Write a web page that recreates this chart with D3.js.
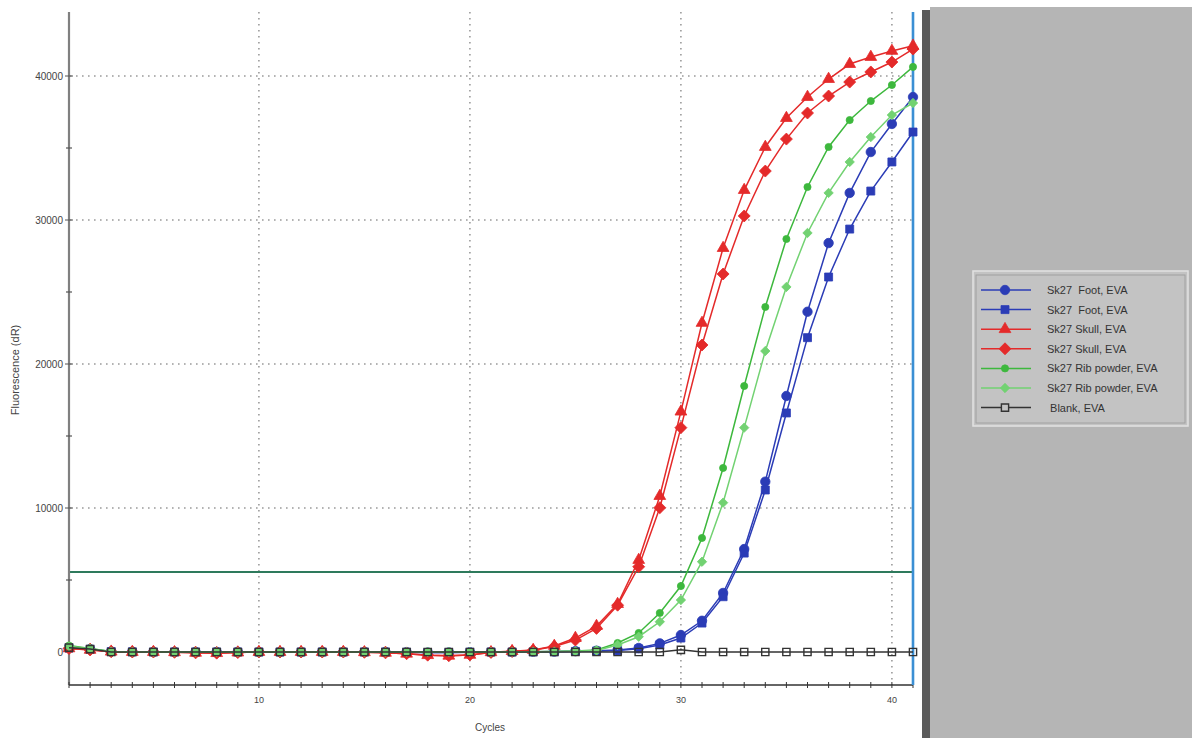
<!DOCTYPE html>
<html><head><meta charset="utf-8">
<script src="https://cdn.jsdelivr.net/npm/d3@7"></script>
<style>body{margin:0;background:#fff;} svg{display:block;font-family:"Liberation Sans",Arial,sans-serif;}</style>
</head><body>
<svg id="chart" width="1192" height="738"></svg>
<script>
const cycles = d3.range(1, 42);
const footA  = [300,200,40,20,10,10,0,0,10,0,0,0,10,0,0,0,-20,-40,-30,-20,0,0,20,30,60,90,140,280,600,1180,2170,4100,7150,11830,17780,23630,28400,31880,34720,36670,38540];
const footB  = [280,180,30,10,0,0,0,0,0,0,0,0,0,0,0,0,-20,-40,-40,-20,0,0,10,20,40,70,100,220,490,970,2010,3840,6870,11250,16600,21830,26040,29370,32010,34030,36110];
const skullA = [250,150,20,0,0,-20,-60,-80,-40,0,0,0,0,0,-20,-60,-120,-220,-260,-200,-20,60,140,420,970,1800,3330,6390,10830,16690,22850,28050,32080,35070,37080,38540,39790,40830,41320,41740,42100];
const skullB = [240,140,20,0,0,-20,-60,-80,-40,0,0,0,0,0,-20,-60,-120,-220,-260,-200,-30,40,120,380,830,1640,3250,5920,10020,15580,21320,26250,30280,33400,35620,37430,38610,39580,40280,40970,41870];
const ribA   = [450,250,30,10,0,0,0,0,0,0,0,0,0,0,0,0,0,0,0,0,0,10,20,40,70,140,625,1320,2710,4580,7920,12780,18470,23960,28680,32290,35070,36940,38260,39375,40630];
const ribB   = [400,230,30,10,0,0,0,0,0,0,0,0,0,0,0,0,0,0,0,0,0,10,20,30,50,100,490,1060,2100,3610,6270,10370,15580,20900,25350,29100,31880,34030,35760,37290,38125];
const blank  = [300,200,0,0,0,0,0,0,0,0,0,0,0,0,0,0,0,0,0,0,0,0,0,0,0,0,0,0,0,150,0,0,0,0,0,0,0,0,0,0,0];
const threshold = 5555;
const yMajorTicks = [0,10000,20000,30000,40000];
const yMinorTicks = [5000,15000,25000,35000];
const xLabelTicks = [10,20,30,40];
const legendLabels = ["Sk27  Foot, EVA","Sk27  Foot, EVA","Sk27 Skull, EVA","Sk27 Skull, EVA","Sk27 Rib powder, EVA","Sk27 Rib powder, EVA"," Blank, EVA"];

// square diamond (rotated square)
const symbolRhomb = { draw(ctx, size){ const r = Math.sqrt(size/2); ctx.moveTo(0,-r); ctx.lineTo(r,0); ctx.lineTo(0,r); ctx.lineTo(-r,0); ctx.closePath(); } };

const series = [
  {name:legendLabels[6], values:blank,  color:"#333333", sym:d3.symbolSquare,   size:52, hollow:true},
  {name:legendLabels[0], values:footA,  color:"#2b3cb6", sym:d3.symbolCircle,   size:70},
  {name:legendLabels[1], values:footB,  color:"#2b3cb6", sym:d3.symbolSquare,   size:64},
  {name:legendLabels[2], values:skullA, color:"#e42a2a", sym:d3.symbolTriangle, size:60},
  {name:legendLabels[3], values:skullB, color:"#e42a2a", sym:symbolRhomb,       size:72},
  {name:legendLabels[4], values:ribA,   color:"#3db83d", sym:d3.symbolCircle,   size:40},
  {name:legendLabels[5], values:ribB,   color:"#72d272", sym:symbolRhomb,       size:44}
];

const svg = d3.select("#chart");
const x = d3.scaleLinear().domain([1,41]).range([69,913]);
const y = d3.scaleLinear().domain([0,40000]).range([652,76]);
const yTop = 12, yBot = 685;

// right panel
svg.append("rect").attr("x",930).attr("y",7).attr("width",262).attr("height",731).attr("fill","#b5b5b5");
svg.append("rect").attr("x",922).attr("y",10).attr("width",8).attr("height",728).attr("fill","#5b5b5b");

// gridlines
const grid = svg.append("g").attr("stroke","#9a9a9a").attr("stroke-width",1.6).attr("stroke-dasharray","1.6,4.4");
grid.selectAll("line.h").data(yMajorTicks.filter(d=>d>0)).join("line")
  .attr("x1",70).attr("x2",913).attr("y1",d=>y(d)).attr("y2",d=>y(d));
grid.selectAll("line.v").data(xLabelTicks).join("line")
  .attr("x1",d=>x(d)).attr("x2",d=>x(d)).attr("y1",yTop).attr("y2",yBot);

// threshold
svg.append("line").attr("x1",69).attr("x2",913).attr("y1",y(threshold)).attr("y2",y(threshold))
  .attr("stroke","#2e7a5c").attr("stroke-width",2);

// y axis
svg.append("line").attr("x1",69).attr("x2",69).attr("y1",yTop).attr("y2",yBot).attr("stroke","#808080").attr("stroke-width",2.2);
const yAx = svg.append("g");
yAx.selectAll("line.maj").data(yMajorTicks).join("line")
  .attr("x1",65).attr("x2",73).attr("y1",d=>y(d)).attr("y2",d=>y(d)).attr("stroke","#555").attr("stroke-width",1);
yAx.selectAll("line.min").data(yMinorTicks).join("line")
  .attr("x1",66).attr("x2",72).attr("y1",d=>y(d)).attr("y2",d=>y(d)).attr("stroke","#555").attr("stroke-width",1.2);
yAx.selectAll("text").data(yMajorTicks).join("text")
  .attr("x",63).attr("y",d=>y(d)+4).attr("text-anchor","end").attr("font-size",10).attr("fill","#444")
  .text(d=>d);
svg.append("text").attr("transform","translate(19,370) rotate(-90)").attr("text-anchor","middle")
  .attr("font-size",11).attr("fill","#444").text("Fluorescence (dR)");

// x axis
svg.append("line").attr("x1",69).attr("x2",913).attr("y1",yBot).attr("y2",yBot).attr("stroke","#333").attr("stroke-width",1.6);
svg.append("g").selectAll("line").data(cycles).join("line")
  .attr("x1",d=>x(d)).attr("x2",d=>x(d)).attr("y1",yBot-3).attr("y2",yBot+3).attr("stroke","#333").attr("stroke-width",1);
svg.append("g").selectAll("text").data(xLabelTicks).join("text")
  .attr("x",d=>x(d)).attr("y",703).attr("text-anchor","middle").attr("font-size",9).attr("fill","#444").text(d=>d);
svg.append("text").attr("x",490).attr("y",731).attr("text-anchor","middle").attr("font-size",10).attr("fill","#444").text("Cycles");

// vertical blue line
svg.append("line").attr("x1",913).attr("x2",913).attr("y1",yTop).attr("y2",yBot).attr("stroke","#3b8fd4").attr("stroke-width",2.6);

// series
const line = d3.line().x((d,i)=>x(cycles[i])).y(d=>y(d));
const drawOrder = [1,2,3,4,5,6,0];
function drawSeries(s){
  const g = svg.append("g");
  g.append("path").attr("d",line(s.values)).attr("fill","none").attr("stroke",s.color).attr("stroke-width",1.5);
  const sym = d3.symbol().type(s.sym).size(s.size);
  g.selectAll("path.m").data(s.values).join("path").attr("class","m")
    .attr("transform",(d,i)=>`translate(${x(cycles[i])},${y(d)})`)
    .attr("d",sym)
    .attr("fill",s.hollow?"none":s.color)
    .attr("stroke",s.hollow?"#333":s.color)
    .attr("stroke-width",s.hollow?1.4:0.8);
}
drawOrder.forEach(i=>drawSeries(series[i]));

// legend
const lg = svg.append("g");
lg.append("rect").attr("x",973).attr("y",271).attr("width",215).attr("height",155).attr("fill","#c3c3c3").attr("stroke","#e2e2e2").attr("stroke-width",1.5);
lg.append("rect").attr("x",976).attr("y",275).attr("width",209).attr("height",148).attr("fill","none").attr("stroke","#a0a0a0").attr("stroke-width",1);
const legOrder = [1,2,3,4,5,6,0];
legOrder.forEach((si,k)=>{
  const s = series[si];
  const cy = 290 + k*19.6;
  lg.append("line").attr("x1",981).attr("x2",1031).attr("y1",cy).attr("y2",cy).attr("stroke",s.color).attr("stroke-width",1.5);
  lg.append("path").attr("transform",`translate(1005,${cy})`).attr("d",d3.symbol().type(s.sym).size(s.size)())
    .attr("fill",s.hollow?"#c3c3c3":s.color).attr("stroke",s.hollow?"#333":s.color).attr("stroke-width",s.hollow?1.4:0.8);
  lg.append("text").attr("x",1047).attr("y",cy+4).attr("font-size",11).attr("fill","#333")
    .attr("xml:space","preserve").style("white-space","pre").text(s.name);
});
</script>
</body></html>
